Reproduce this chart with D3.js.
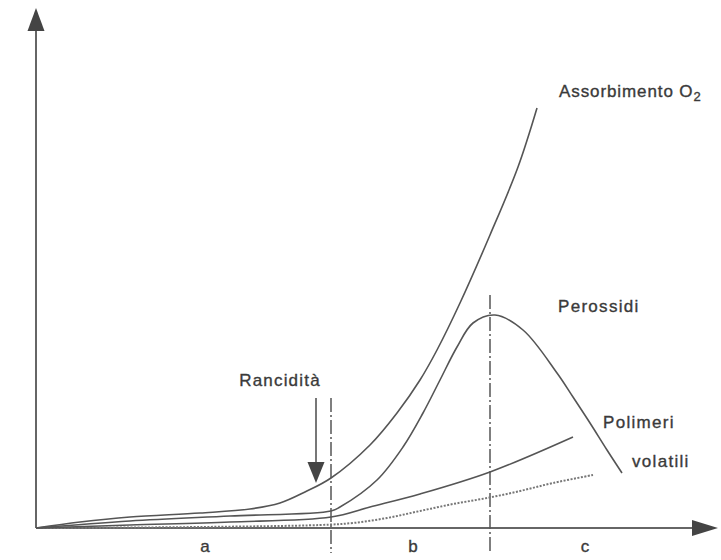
<!DOCTYPE html>
<html><head><meta charset="utf-8">
<script src="https://cdn.jsdelivr.net/npm/d3@7"></script>
<style>body{margin:0;background:#fff}svg text{font-family:"Liberation Sans",Arial,sans-serif;fill:#3a3a3a;stroke:#3a3a3a;stroke-width:0.35}</style>
</head><body><svg id="c" width="721" height="560"></svg>
<script>
// time (arbitrary units) and response (arbitrary units)
const o2X   = [0,4.4,9.4,16.4,21.4,24.4,26.9,29.5,33.4,36.1,38.4,40.1,42.4,45.4,48.2,50.1];
const o2Y   = [0,1.2,2.2,3.0,3.8,5.0,7.2,10.0,16.6,23.0,29.6,35.6,45.0,58.6,72.2,84.0];
const perX  = [0,9.4,19.4,29.5,30.4,34.1,36.7,38.7,40.4,42.1,43.7,45.9,48.7,52.1,53.7,55.4,57.1,58.6];
const perY  = [0,1.4,2.4,3.4,4.2,9.6,16.2,23.0,29.6,36.2,41.0,42.6,39.6,31.0,26.2,21.0,15.6,11.0];
const polX  = [0,9.4,19.4,29.5,33.4,38.4,45.4,53.7];
const polY  = [0,0.6,1.2,2.2,4.2,6.8,11.2,18.2];
const volX  = [0,16.4,28.4,31.7,35.1,38.4,41.7,45.1,48.4,51.7,55.7];
const volY  = [0,0.2,0.6,1.0,2.0,3.4,4.8,6.0,7.4,9.0,10.6];
const phaseBounds = [29.5,45.4];
const phaseLabels = ["a","b","c"];
const phaseLabelX = [16.9,37.7,54.9];
const rancidX = 28.0;

const svg = d3.select("#c");
const x = d3.scaleLinear().domain([0,66]).range([36,696]);
const y = d3.scaleLinear().domain([0,100]).range([528,28]);
const ink = "#555";

// axes
svg.append("line").attr("x1",x(0)).attr("y1",y(0)).attr("x2",700).attr("y2",y(0)).attr("stroke","#666").attr("stroke-width",2);
svg.append("line").attr("x1",x(0)).attr("y1",y(0)).attr("x2",x(0)).attr("y2",26).attr("stroke","#666").attr("stroke-width",2);
svg.append("path").attr("d",`M${x(0)},8 L${x(0)-8.5},31 L${x(0)+8.5},31 Z`).attr("fill","#444");
svg.append("path").attr("d",`M718,${y(0)} L692,${y(0)-8} L692,${y(0)+8} Z`).attr("fill","#444");

// phase boundaries
const bTop=[398,295];
phaseBounds.forEach((b,i)=>{
  svg.append("line").attr("x1",x(b)).attr("x2",x(b)).attr("y1",bTop[i]).attr("y2",553)
    .attr("stroke","#555").attr("stroke-width",1.5).attr("stroke-dasharray","14,3,2,3");
});
phaseLabels.forEach((l,i)=>{
  svg.append("text").attr("x",x(phaseLabelX[i])).attr("y",552).attr("text-anchor","middle")
    .attr("font-size",17).text(l);
});

const line = d3.line().x(d=>x(d[0])).y(d=>y(d[1])).curve(d3.curveCatmullRom.alpha(0.5));
const zip=(a,b)=>a.map((v,i)=>[v,b[i]]);
svg.append("path").attr("d",line(zip(volX,volY))).attr("fill","none").attr("stroke","#777").attr("stroke-width",2).attr("stroke-dasharray","2,1.5");
svg.append("path").attr("d",line(zip(polX,polY))).attr("fill","none").attr("stroke",ink).attr("stroke-width",1.6);
svg.append("path").attr("d",line(zip(perX,perY))).attr("fill","none").attr("stroke",ink).attr("stroke-width",1.6);
svg.append("path").attr("d",line(zip(o2X,o2Y))).attr("fill","none").attr("stroke",ink).attr("stroke-width",1.6);

// rancidity arrow
svg.append("line").attr("x1",x(rancidX)).attr("x2",x(rancidX)).attr("y1",398).attr("y2",465).attr("stroke","#555").attr("stroke-width",1.6);
svg.append("path").attr("d",`M${x(rancidX)},483 L${x(rancidX)-8.5},462 L${x(rancidX)+8.5},462 Z`).attr("fill","#444");
svg.append("text").attr("x",280).attr("y",386).attr("text-anchor","middle").attr("font-size",17).attr("letter-spacing",1.2).text("Rancidità");

// curve labels
const t1 = svg.append("text").attr("x",559).attr("y",97).attr("font-size",17).attr("letter-spacing",0.9);
t1.append("tspan").text("Assorbimento O");
t1.append("tspan").attr("font-size",13).attr("dy",4).text("2");
svg.append("text").attr("x",558).attr("y",312).attr("font-size",17).attr("letter-spacing",1.3).text("Perossidi");
svg.append("text").attr("x",603).attr("y",428).attr("font-size",17).attr("letter-spacing",1.3).text("Polimeri");
svg.append("text").attr("x",632).attr("y",467).attr("font-size",17).attr("letter-spacing",1.3).text("volatili");
</script></body></html>
